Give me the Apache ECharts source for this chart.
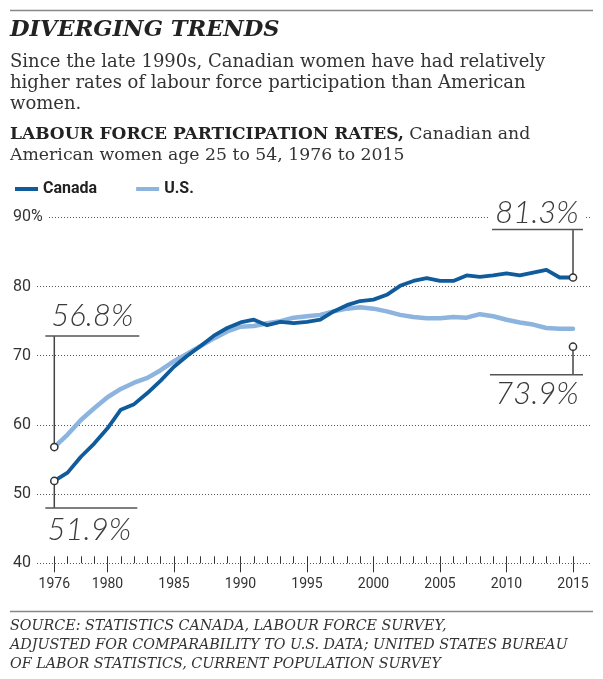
<!DOCTYPE html>
<html><head><meta charset="utf-8">
<script src="https://cdn.jsdelivr.net/npm/echarts@6/dist/echarts.min.js"></script>
<style>html,body{margin:0;padding:0;background:#fff}#c{width:603px;height:679px}</style>
</head><body><div id="c"></div>
<script>
// ---- data ----
const years = [1976,1977,1978,1979,1980,1981,1982,1983,1984,1985,1986,1987,1988,1989,1990,1991,1992,1993,1994,1995,
               1996,1997,1998,1999,2000,2001,2002,2003,2004,2005,2006,2007,2008,2009,2010,2011,2012,2013,2014,2015];
const canada = [51.9,53.1,55.4,57.3,59.5,62.2,63.0,64.6,66.4,68.4,70.0,71.4,72.9,74.0,74.8,75.2,74.4,74.9,74.7,74.9,
                75.2,76.4,77.3,77.9,78.1,78.8,80.1,80.8,81.2,80.8,80.8,81.6,81.4,81.6,81.9,81.6,82.0,82.4,81.3,81.3];
const us = [56.8,58.6,60.7,62.4,64.0,65.2,66.1,66.8,67.9,69.2,70.3,71.4,72.5,73.5,74.2,74.3,74.7,75.0,75.5,75.7,
            75.9,76.4,76.8,77.0,76.8,76.4,75.9,75.6,75.4,75.4,75.6,75.5,76.0,75.7,75.2,74.8,74.5,74.0,73.9,73.9];
const seriesNames = ['Canada', 'U.S.'];
const majorYears = [1976,1980,1985,1990,1995,2000,2005,2010,2015];
const yMin = 40, yMax = 90, yStep = 10;

// ---- styles ----
const cDark = '#0f5b9b', cLight = '#8db4df';
const axisFont = 'Roboto, "Liberation Sans", sans-serif';
const serif = '"DejaVu Serif", serif';
const pxPerYear = 13.3;
const gridLeft = 13, gridRight = 13;
const xMin = 1976 - (54.3 - gridLeft) / pxPerYear;
const xMax = xMin + (603 - gridLeft - gridRight) / pxPerYear;

// annotation layout (pixel offsets from the data point)
const annData = [
  [years[0], canada[0]],
  [years[0], us[0]],
  [years[years.length-1], canada[canada.length-1]],
  [years[years.length-1], us[us.length-1]]
];
const annCfg = [
  {circleDy: 0,  hDy: 27,   hx1: -9,  hx2: 83, tdx: 35,   tdy: 49,   bg: false},
  {circleDy: 0,  hDy: -111, hx1: -9,  hx2: 85, tdx: 38,   tdy: -131, bg: false},
  {circleDy: 0,  hDy: -48,  hx1: -81, hx2: 10, tdx: -36,  tdy: -65,  bg: true},
  {circleDy: 18, hDy: 46,   hx1: -83, hx2: 10, tdx: -36,  tdy: 65,   bg: false}
];

function renderAnn(params, api) {
  const cfg = annCfg[params.dataIndex];
  const v = api.value(1);
  const p = api.coord([api.value(0), v]);
  const cx = p[0], cy = p[1] + cfg.circleDy;
  const children = [];
  if (cfg.bg) {
    children.push({type: 'rect', shape: {x: p[0] + cfg.hx1 - 2, y: p[1] + cfg.tdy - 13, width: cfg.hx2 - cfg.hx1 + 4, height: 26},
      style: {fill: '#fff'}});
  }
  children.push({type: 'line', shape: {x1: cx, y1: cy, x2: cx, y2: p[1] + cfg.hDy}, style: {stroke: '#444', lineWidth: 1.5}});
  children.push({type: 'line', shape: {x1: p[0] + cfg.hx1, y1: p[1] + cfg.hDy, x2: p[0] + cfg.hx2, y2: p[1] + cfg.hDy},
    style: {stroke: '#555', lineWidth: 1.5}});
  children.push({type: 'circle', shape: {cx: cx, cy: cy, r: 3.6}, style: {fill: '#fff', stroke: '#333', lineWidth: 1.5}});
  children.push({type: 'text', x: p[0] + cfg.tdx, y: p[1] + cfg.tdy,
    style: {text: v.toFixed(1) + '%', align: 'center', verticalAlign: 'middle', fill: '#3a3a3a',
      fontSize: 31, fontStyle: 'italic', fontWeight: 300, fontFamily: 'Lato, "Open Sans", sans-serif'}});
  return {type: 'group', children: children};
}

const chart = echarts.init(document.getElementById('c'), null, {renderer: 'canvas'});
chart.setOption({
  animation: false,
  backgroundColor: '#fff',
  grid: {left: gridLeft, right: gridRight, top: 217.3, bottom: 679 - 563.3, containLabel: false},
  legend: {
    data: seriesNames, left: 10, top: 176, icon: 'rect', itemWidth: 23, itemHeight: 4, itemGap: 39,
    textStyle: {fontFamily: axisFont, fontWeight: 'bold', fontSize: 16, color: '#222'}
  },
  xAxis: [
    {type: 'value', min: xMin, max: xMax,
     axisLine: {show: false}, splitLine: {show: false},
     axisTick: {show: true, customValues: majorYears, length: 9, lineStyle: {color: '#333', width: 1}},
     axisLabel: {customValues: majorYears, margin: 14, fontFamily: axisFont, fontSize: 14, color: '#333',
       formatter: v => String(v)}},
    {type: 'value', min: xMin, max: xMax, position: 'bottom',
     axisLine: {show: false}, splitLine: {show: false}, axisLabel: {show: false},
     axisTick: {show: true, inside: true, customValues: years, length: 7, lineStyle: {color: '#333', width: 1}}}
  ],
  yAxis: {
    type: 'value', min: yMin, max: yMax, interval: yStep,
    axisLine: {show: false}, axisTick: {show: false},
    splitLine: {lineStyle: {type: [1, 2], color: '#555', width: 1}},
    axisLabel: {inside: true, margin: 0, fontFamily: axisFont, fontSize: 16, color: '#333',
      backgroundColor: '#fff', padding: [2, 5, 2, 0],
      formatter: v => v === yMax ? v + '%' : String(v)}
  },
  series: [
    {name: seriesNames[1], type: 'line', data: years.map((y, i) => [y, us[i]]), showSymbol: false, z: 3,
     itemStyle: {color: cLight}, lineStyle: {color: cLight, width: 4.5, cap: 'round', join: 'round'}},
    {name: seriesNames[0], type: 'line', data: years.map((y, i) => [y, canada[i]]), showSymbol: false, z: 4,
     itemStyle: {color: cDark}, lineStyle: {color: cDark, width: 3.8, cap: 'round', join: 'round'}},
    {type: 'custom', data: annData, renderItem: renderAnn, z: 6, clip: false, silent: true}
  ],
  graphic: [
    {type: 'line', shape: {x1: 10, y1: 10.5, x2: 593, y2: 10.5}, style: {stroke: '#888', lineWidth: 1.5}},
    {type: 'text', x: 10, y: 30, style: {text: 'DIVERGING TRENDS', fontFamily: serif, fontStyle: 'italic', fontWeight: 'bold',
      fontSize: 22.5, fill: '#222', verticalAlign: 'middle'}},
    {type: 'text', x: 10, y: 51.5, style: {
      text: 'Since the late 1990s, Canadian women have had relatively\nhigher rates of labour force participation than American\nwomen.',
      fontFamily: serif, fontSize: 18, lineHeight: 21, fill: '#333', verticalAlign: 'top'}},
    {type: 'text', x: 10, y: 124, style: {
      text: '{b|LABOUR FORCE PARTICIPATION RATES,} Canadian and\nAmerican women age 25 to 54, 1976 to 2015',
      fontFamily: serif, fontSize: 17.3, lineHeight: 21, fill: '#333', verticalAlign: 'top',
      rich: {b: {fontFamily: serif, fontWeight: 'bold', fontSize: 17, lineHeight: 21, fill: '#222'}}}},
    {type: 'line', shape: {x1: 10, y1: 611.5, x2: 593, y2: 611.5}, style: {stroke: '#888', lineWidth: 1.5}},
    {type: 'text', x: 10, y: 617, style: {
      text: 'SOURCE: STATISTICS CANADA, LABOUR FORCE SURVEY,\nADJUSTED FOR COMPARABILITY TO U.S. DATA; UNITED STATES BUREAU\nOF LABOR STATISTICS, CURRENT POPULATION SURVEY',
      fontFamily: serif, fontStyle: 'italic', fontSize: 14.3, lineHeight: 19, fill: '#333', verticalAlign: 'top'}}
  ]
});
</script>
</body></html>
